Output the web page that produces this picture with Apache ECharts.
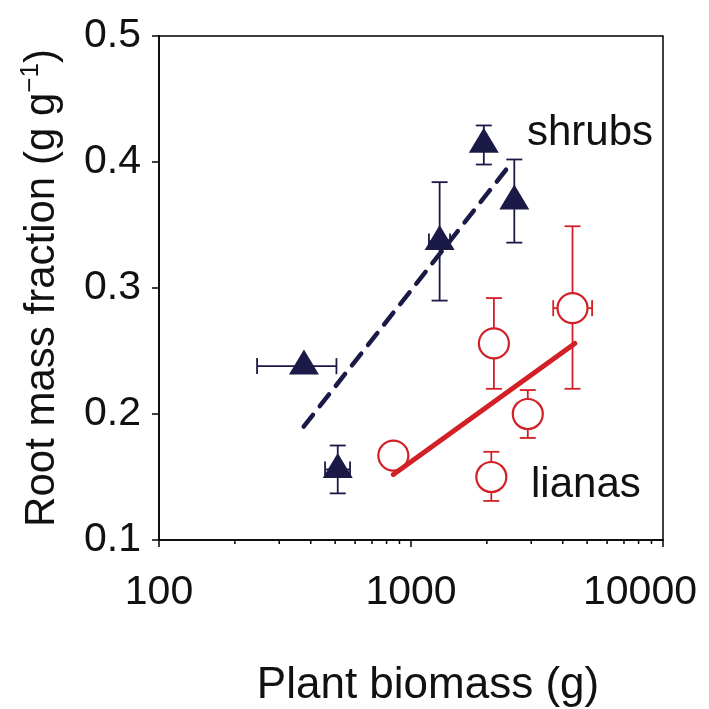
<!DOCTYPE html>
<html>
<head>
<meta charset="utf-8">
<script src="https://cdn.jsdelivr.net/npm/echarts@6/dist/echarts.min.js"></script>
<style>html,body{margin:0;padding:0;background:#fff}#c{width:709px;height:709px}</style>
</head>
<body>
<div id="c"></div>
<script>
// ---- data ----
const shrubsX = [376, 512, 1299, 1945, 2570];
const shrubsY = [0.238, 0.156, 0.337, 0.414, 0.369];
const shrubsYLow = [null, 0.137, 0.290, 0.398, 0.336];
const shrubsYHigh = [null, 0.175, 0.384, 0.429, 0.402];
const shrubsXLow = [245, 456, 1178, null, null];
const shrubsXHigh = [506, 573, 1429, null, null];
const shrubsFitX = [375, 2520];
const shrubsFitY = [0.190, 0.400];

const lianasX = [851, 2133, 2907, 2083, 4375];
const lianasY = [0.167, 0.256, 0.200, 0.150, 0.284];
const lianasYLow = [null, 0.220, 0.181, 0.131, 0.220];
const lianasYHigh = [null, 0.292, 0.219, 0.170, 0.349];
const lianasXLow = [null, null, null, null, 3667];
const lianasXHigh = [null, null, null, null, 5232];
const lianasFitX = [851, 4467];
const lianasFitY = [0.152, 0.256];

const xMajorTicks = [100, 1000, 10000];
const xMinorTicks = [200, 300, 400, 500, 600, 700, 800, 900, 2000, 3000, 4000, 5000, 6000, 7000, 8000, 9000];
const yTicks = [0.1, 0.2, 0.3, 0.4, 0.5];

const NAVY = '#1b1a47';
const RED = '#d31f26';
const FONT = '"Liberation Sans", Arial, sans-serif';

function errRows(x, y, yl, yh, xl, xh) {
  return x.map((v, i) => [v, y[i],
    yl[i] == null ? y[i] : yl[i], yh[i] == null ? y[i] : yh[i],
    xl[i] == null ? v : xl[i], xh[i] == null ? v : xh[i]]);
}

function errRender(color) {
  return function (params, api) {
    const x = api.value(0), y = api.value(1);
    const yl = api.value(2), yh = api.value(3), xl = api.value(4), xh = api.value(5);
    const ch = [];
    const st = { stroke: color, lineWidth: 1.8 };
    const cap = 8;
    if (yl !== yh) {
      const a = api.coord([x, yl]), b = api.coord([x, yh]);
      ch.push({ type: 'line', shape: { x1: a[0], y1: a[1], x2: b[0], y2: b[1] }, style: st });
      ch.push({ type: 'line', shape: { x1: a[0] - cap, y1: a[1], x2: a[0] + cap, y2: a[1] }, style: st });
      ch.push({ type: 'line', shape: { x1: b[0] - cap, y1: b[1], x2: b[0] + cap, y2: b[1] }, style: st });
    }
    if (xl !== xh) {
      const a = api.coord([xl, y]), b = api.coord([xh, y]);
      ch.push({ type: 'line', shape: { x1: a[0], y1: a[1], x2: b[0], y2: b[1] }, style: st });
      ch.push({ type: 'line', shape: { x1: a[0], y1: a[1] - cap, x2: a[0], y2: a[1] + cap }, style: st });
      ch.push({ type: 'line', shape: { x1: b[0], y1: b[1] - cap, x2: b[0], y2: b[1] + cap }, style: st });
    }
    return { type: 'group', children: ch };
  };
}

const xMax = xMajorTicks[xMajorTicks.length - 1];

const chart = echarts.init(document.getElementById('c'), null, { renderer: 'canvas' });
chart.setOption({
  animation: false,
  backgroundColor: '#fff',
  grid: { left: 159, right: 46, top: 36, bottom: 169, containLabel: false, outerBoundsMode: 'none',
          show: true, borderColor: '#000', borderWidth: 1.5, backgroundColor: 'transparent' },
  xAxis: {
    type: 'log', logBase: 10, min: xMajorTicks[0], max: xMax,
    name: 'Plant biomass (g)', nameLocation: 'middle', nameGap: 124,
    nameTextStyle: { fontSize: 44, fontFamily: FONT, color: '#111', padding: [0, 0, 0, 34] },
    axisLine: { lineStyle: { color: '#000', width: 1.5 } },
    axisTick: { show: true, inside: false, length: 7, lineStyle: { color: '#000', width: 1.5 } },
    axisLabel: { fontSize: 41, fontFamily: FONT, color: '#111', margin: 32,
      formatter: v => Math.round(v) === xMax ? '{m|' + Math.round(v) + '}' : String(Math.round(v)),
      rich: { m: { fontSize: 41, fontFamily: FONT, color: '#111', padding: [0, 46, 0, 0] } } },
    splitLine: { show: false },
    minorTick: { show: false }
  },
  yAxis: {
    type: 'value', min: yTicks[0], max: yTicks[yTicks.length - 1], interval: 0.1,
    name: '{a|Root mass fraction (g g}{s|\u22121}{a|)}', nameLocation: 'middle', nameGap: 93,
    nameTextStyle: { fontFamily: FONT, color: '#111',
      rich: { a: { fontSize: 42, fontFamily: FONT, color: '#111', lineHeight: 48 },
              s: { fontSize: 26, fontFamily: FONT, color: '#111', verticalAlign: 'top', lineHeight: 48, padding: [0, 0, 22, 0] } } },
    axisLine: { show: true, lineStyle: { color: '#000', width: 1.5 } },
    axisTick: { show: true, inside: false, length: 7, lineStyle: { color: '#000', width: 1.5 } },
    axisLabel: { fontSize: 41, fontFamily: FONT, color: '#111', margin: 18, formatter: v => v.toFixed(1) },
    splitLine: { show: false }
  },
  series: [
    { // minor ticks on log axis
      type: 'custom', silent: true, clip: false, z: 1,
      data: xMinorTicks.map(v => [v, yTicks[0]]),
      renderItem: function (params, api) {
        const p = api.coord([api.value(0), api.value(1)]);
        return { type: 'line', shape: { x1: p[0], y1: p[1], x2: p[0], y2: p[1] + 4 }, style: { stroke: '#000', lineWidth: 1.5 } };
      }
    },
    { type: 'custom', silent: true, z: 2, data: errRows(shrubsX, shrubsY, shrubsYLow, shrubsYHigh, shrubsXLow, shrubsXHigh), renderItem: errRender(NAVY) },
    { type: 'custom', silent: true, z: 2, data: errRows(lianasX, lianasY, lianasYLow, lianasYHigh, lianasXLow, lianasXHigh), renderItem: errRender(RED) },
    { type: 'scatter', z: 3, symbol: 'circle', symbolSize: 30,
      itemStyle: { color: '#fff', borderColor: RED, borderWidth: 2.2, opacity: 1 },
      data: lianasX.map((v, i) => [v, lianasY[i]]) },
    { type: 'line', z: 4, symbol: 'none', lineStyle: { color: NAVY, width: 4.5, type: [15, 11], cap: 'round' },
      data: shrubsFitX.map((v, i) => [v, shrubsFitY[i]]) },
    { type: 'line', z: 4, symbol: 'none', lineStyle: { color: RED, width: 5, cap: 'round' },
      data: lianasFitX.map((v, i) => [v, lianasFitY[i]]) },
    { type: 'scatter', z: 5, symbol: 'triangle', symbolSize: [30, 25], symbolOffset: [0, -4],
      itemStyle: { color: NAVY, opacity: 1 },
      data: shrubsX.map((v, i) => [v, shrubsY[i]]) }
  ],
  graphic: [
    { type: 'text', left: 527, top: 112, style: { text: 'shrubs', fontSize: 42, fontFamily: FONT, fill: '#111' } },
    { type: 'text', left: 531, top: 464, style: { text: 'lianas', fontSize: 42, fontFamily: FONT, fill: '#111' } }
  ]
});
</script>
</body>
</html>
